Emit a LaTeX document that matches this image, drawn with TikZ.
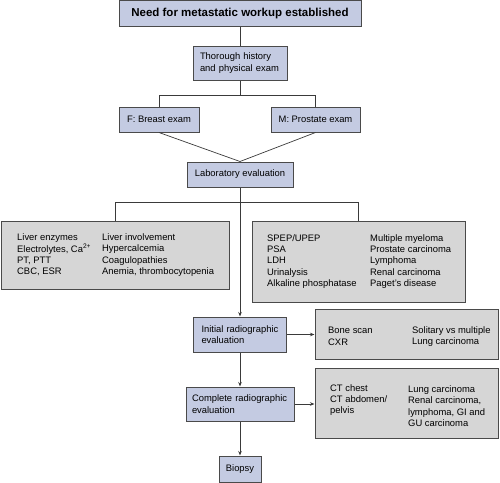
\documentclass[tikz,border=0pt]{standalone}
\usepackage{fontspec}
\setmainfont{Liberation Sans}
\usetikzlibrary{arrows.meta}
\definecolor{bluefill}{HTML}{C4CBE2}
\definecolor{grayfill}{HTML}{D6D6D6}
\definecolor{edgec}{HTML}{4A4A4A}
\definecolor{linec}{HTML}{3A3A3A}
\begin{document}
\begin{tikzpicture}[x=1pt,y=-1pt,
  box/.style={draw=edgec,line width=1pt,inner sep=0pt,font=\fontsize{9.4}{11.5}\selectfont},
  bbox/.style={box,fill=bluefill},
  gbox/.style={box,fill=grayfill},
  txt/.style={inner sep=0pt,anchor=west,align=left,font=\fontsize{9.4}{11.4}\selectfont},
  conn/.style={draw=linec,line width=0.7pt},
  arr/.style={conn,-{Stealth[length=4.5pt,width=3.5pt]}}]
\useasboundingbox (0,0) rectangle (500,482);
% blue boxes
\node[bbox,minimum width=242,minimum height=25.5,font=\fontsize{11.5}{13}\selectfont\bfseries] (top) at (240,13.3) {Need for metastatic workup established};
\node[bbox,minimum height=34,inner xsep=7,text width=80,align=left] (thor) at (240,63) {Thorough history\\and physical exam};
\node[bbox,minimum width=80,minimum height=25] (fb) at (159,119.5) {F: Breast exam};
\node[bbox,minimum width=89,minimum height=25] (mb) at (315.5,119.5) {M: Prostate exam};
\node[bbox,minimum width=106,minimum height=25] (lab) at (240,174.5) {Laboratory evaluation};
\node[bbox,minimum height=35,inner xsep=8,text width=77,align=left] (init) at (240,334.5) {Initial radiographic\\evaluation};
\node[bbox,minimum height=34,inner xsep=6,text width=96,align=left] (comp) at (240,404) {Complete radiographic\\evaluation};
\node[bbox,minimum width=42,minimum height=26] (bio) at (240,469) {Biopsy};
% gray boxes
\node[gbox,minimum width=228,minimum height=68] (lbox) at (115,255) {};
\node[gbox,minimum width=213,minimum height=81] (rbox) at (358.5,261.5) {};
\node[gbox,minimum width=183,minimum height=50] (bone) at (406.5,334) {};
\node[gbox,minimum width=183,minimum height=70] (ct) at (406.5,403) {};
% texts in gray boxes
\node[txt] (l1) at (17,255) {Liver enzymes\\Electrolytes, Ca\textsuperscript{2+}\\PT, PTT\\CBC, ESR};
\node[txt] (l2) at (102,255) {Liver involvement\\Hypercalcemia\\Coagulopathies\\Anemia, thrombocytopenia};
\node[txt] (r1) at (267,261.5) {SPEP/UPEP\\PSA\\LDH\\Urinalysis\\Alkaline phosphatase};
\node[txt] (r2) at (370,261.5) {Multiple myeloma\\Prostate carcinoma\\Lymphoma\\Renal carcinoma\\Paget's disease};
\node[txt] (b1) at (328,336.5) {Bone scan\\CXR};
\node[txt] (b2) at (412,336.5) {Solitary vs multiple\\Lung carcinoma};
\node[txt] (c1) at (330,400) {CT chest\\CT abdomen/\\pelvis};
\node[txt] (c2) at (408,406) {Lung carcinoma\\Renal carcinoma,\\lymphoma, GI and\\GU carcinoma};
% connectors
\coordinate (j1) at (240,95);
\coordinate (j2) at (240,202);
\draw[conn] (top.south) -- (thor.north);
\draw[conn] (thor.south) -- (thor.south |- j1);
\draw[conn] (fb.north) -- (fb.north |- j1) -- (mb.north |- j1) -- (mb.north);
\draw[conn] (fb.south) -- (lab.north);
\draw[conn] (mb.south) -- (lab.north);
\draw[arr] (lab.south) -- (init.north);
\draw[conn] (lbox.north) -- (lbox.north |- j2) -- (rbox.north |- j2) -- (rbox.north);
\draw[arr] (init.east) -- (init.east -| bone.west);
\draw[arr] (init.south) -- (comp.north);
\draw[arr] (comp.east) -- (comp.east -| ct.west);
\draw[arr] (comp.south) -- (bio.north);
\end{tikzpicture}
\end{document}
